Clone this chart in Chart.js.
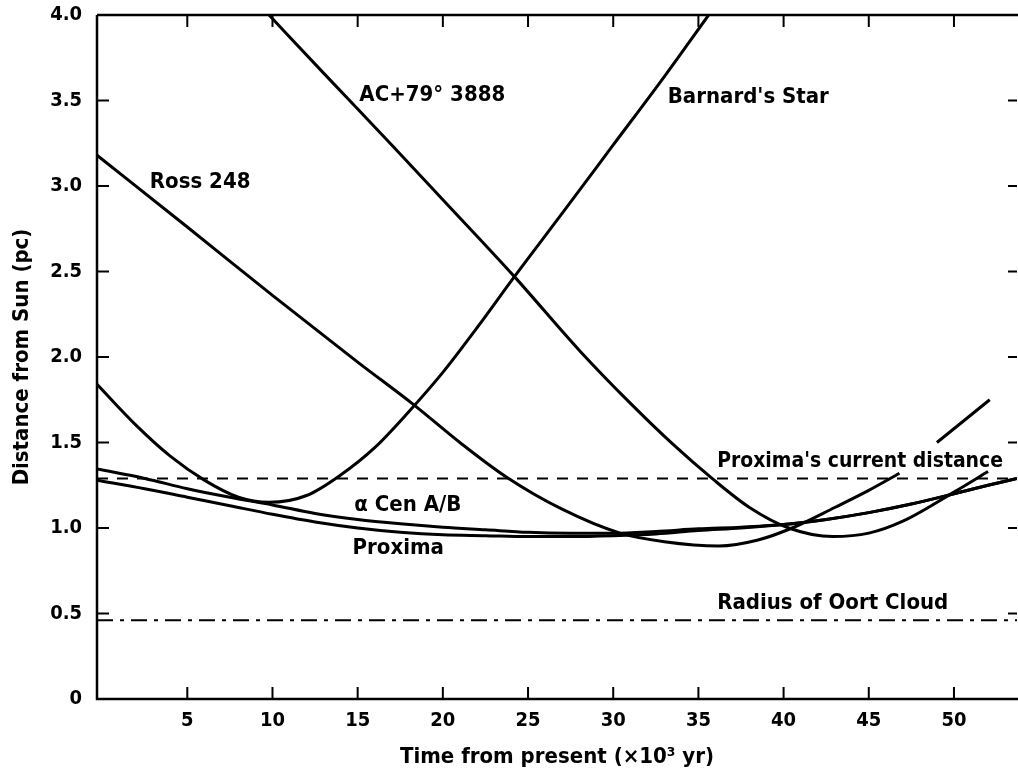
<!DOCTYPE html>
<html lang="en">
  <head>
    <meta charset="utf-8">
    <title>Stars passing the Sun</title>
    <script src="https://cdn.jsdelivr.net/npm/chart.js@4.4.1/dist/chart.umd.min.js"></script>
    <style>
      body { margin: 0; background: #fff; }
      canvas { display: block; }
    </style>
  </head>
  <body>
    <canvas id="chart_dist" width="1018" height="774"></canvas>

    <script>
      // values: time in 10^3 yr, distance in pc
      const xTicks = [5, 10, 15, 20, 25, 30, 35, 40, 45, 50];
      const yTicks = [0, 0.5, 1.0, 1.5, 2.0, 2.5, 3.0, 3.5, 4.0];

      const alphaCenT = [-0.3, 2.5, 5, 7.5, 10, 12.5, 15, 17.5, 20, 22.5, 25, 27.5, 30, 32.5, 35, 37.5, 40, 42.5, 45, 47.5, 50, 52, 53.7];
      const alphaCenD = [1.345, 1.29, 1.23, 1.18, 1.135, 1.085, 1.05, 1.025, 1.005, 0.99, 0.975, 0.97, 0.97, 0.98, 0.995, 1.005, 1.02, 1.05, 1.09, 1.14, 1.20, 1.25, 1.29];

      const proximaT = [-0.3, 2.5, 5, 7.5, 10, 12.5, 15, 17.5, 20, 22.5, 25, 27.5, 30, 32.5, 35, 37.5, 40, 42.5, 45, 47.5, 50, 52, 53.7];
      const proximaD = [1.28, 1.23, 1.18, 1.13, 1.08, 1.035, 1.0, 0.975, 0.96, 0.955, 0.95, 0.95, 0.955, 0.965, 0.985, 1.0, 1.02, 1.05, 1.09, 1.14, 1.20, 1.25, 1.29];

      const barnardT = [-0.3, 2, 4, 6, 8, 9.8, 12, 14, 16, 18, 20, 22, 24.2, 27, 30, 33, 35.6];
      const barnardD = [1.84, 1.60, 1.42, 1.28, 1.18, 1.15, 1.19, 1.31, 1.47, 1.68, 1.91, 2.17, 2.47, 2.84, 3.24, 3.64, 4.0];

      // the break near 48 is where the label sits
      const rossT = [-0.3, 5, 10, 15, 18.3, 21, 23.7, 27, 30.4, 33, 36.2, 38.5, 40.5, 43, 45, 46.8, 47.9, 49, 52.1];
      const rossD = [3.18, 2.76, 2.36, 1.97, 1.72, 1.50, 1.30, 1.11, 0.97, 0.92, 0.895, 0.93, 1.0, 1.12, 1.22, 1.32, null, 1.50, 1.75];

      const acT = [9.8, 13, 17, 20, 24.2, 28, 31, 33.5, 35.8, 38, 40.3, 42.9, 45, 47, 50, 52];
      const acD = [4.0, 3.66, 3.24, 2.92, 2.47, 2.04, 1.73, 1.49, 1.29, 1.12, 1.0, 0.95, 0.97, 1.04, 1.21, 1.33];

      const proximaNow = 1.29;
      const oortRadius = 0.46;

      const labelText = ["Ross 248", "AC+79\u00b0 3888", "Barnard's Star", "Proxima's current distance", "\u03b1 Cen A/B", "Proxima", "Radius of Oort Cloud"];
      const labelT = [2.8, 15.1, 33.2, 36.1, 14.8, 14.7, 36.1];
      const labelD = [3.02, 3.53, 3.52, 1.39, 1.13, 0.88, 0.56];

      const X_MIN = -0.3, X_MAX = 53.7;
      const FONT = '"DejaVu Sans Condensed", "DejaVu Sans", sans-serif';

      function pts(t, d) {
        return t.map((v, i) => ({ x: v, y: d[i] }));
      }

      function curve(t, d) {
        return {
          data: pts(t, d),
          borderColor: "#000",
          borderWidth: 3,
          pointRadius: 0,
          showLine: true,
          tension: 0.4,
          cubicInterpolationMode: 'monotone',
          spanGaps: false
        };
      }

      function refLine(y, dash) {
        return {
          data: [{ x: X_MIN, y: y }, { x: X_MAX, y: y }],
          borderColor: "#000",
          borderWidth: 2,
          borderDash: dash,
          pointRadius: 0,
          showLine: true
        };
      }

      // box on three sides, with ticks pointing inward
      const frame = {
        id: 'frame',
        afterDatasetsDraw(chart) {
          const { ctx, chartArea: a, scales } = chart;
          ctx.save();
          ctx.strokeStyle = "#000";
          ctx.lineWidth = 2.5;
          ctx.beginPath();
          ctx.moveTo(a.left, a.top);
          ctx.lineTo(a.left, a.bottom);
          ctx.lineTo(a.right + 2, a.bottom);
          ctx.moveTo(a.left, a.top);
          ctx.lineTo(a.right + 2, a.top);
          ctx.stroke();
          ctx.lineWidth = 2;
          ctx.beginPath();
          xTicks.forEach(v => {
            const px = scales.x.getPixelForValue(v);
            ctx.moveTo(px, a.bottom);
            ctx.lineTo(px, a.bottom - 12);
            ctx.moveTo(px, a.top);
            ctx.lineTo(px, a.top + 12);
          });
          yTicks.slice(1, -1).forEach(v => {
            const py = scales.y.getPixelForValue(v);
            ctx.moveTo(a.left, py);
            ctx.lineTo(a.left + 12, py);
            ctx.moveTo(a.right, py);
            ctx.lineTo(a.right - 9, py);
          });
          ctx.stroke();
          ctx.restore();
        }
      };

      const notes = {
        id: 'notes',
        afterDatasetsDraw(chart) {
          const { ctx, scales, chartArea } = chart;
          ctx.save();
          ctx.fillStyle = "#000";
          ctx.font = 'bold 22px ' + FONT;
          ctx.textAlign = 'left';
          ctx.textBaseline = 'middle';
          labelText.forEach((s, i) => {
            const px = scales.x.getPixelForValue(labelT[i]);
            ctx.fillText(s, px, scales.y.getPixelForValue(labelD[i]), chartArea.right - px - 14);
          });
          ctx.restore();
        }
      };

      const chart = new Chart("chart_dist", {
        type: "scatter",
        data: {
          datasets: [
            curve(alphaCenT, alphaCenD),
            curve(proximaT, proximaD),
            curve(barnardT, barnardD),
            curve(rossT, rossD),
            curve(acT, acD),
            refLine(proximaNow, [11, 9]),
            refLine(oortRadius, [16, 7, 4, 7])
          ]
        },
        options: {
          responsive: false,
          animation: false,
          layout: { padding: { top: 15, right: 1, left: 0, bottom: 0 } },
          plugins: { legend: { display: false }, tooltip: { enabled: false } },
          scales: {
            x: {
              type: 'linear',
              min: X_MIN,
              max: X_MAX,
              grid: { display: false, drawTicks: false },
              border: { display: false },
              afterBuildTicks: s => { s.ticks = xTicks.map(v => ({ value: v })); },
              afterFit: s => { s.height = 75; s.paddingLeft = 0; s.paddingRight = 0; },
              ticks: {
                padding: 10,
                color: "#000",
                font: { family: FONT, size: 20, weight: 'bold' }
              },
              title: {
                display: true,
                text: "Time from present (\u00d710\u00b3 yr)",
                color: "#000",
                padding: { top: 0, bottom: 4 },
                font: { family: FONT, size: 22, weight: 'bold' }
              }
            },
            y: {
              min: 0,
              max: 4,
              grid: { display: false, drawTicks: false },
              border: { display: false },
              afterBuildTicks: s => { s.ticks = yTicks.map(v => ({ value: v })); },
              afterFit: s => { s.width = 97; s.paddingTop = 0; s.paddingBottom = 0; },
              ticks: {
                padding: 15,
                color: "#000",
                font: { family: FONT, size: 20, weight: 'bold' },
                callback: v => v === 0 ? "0" : v.toFixed(1)
              },
              title: {
                display: true,
                text: "Distance from Sun (pc)",
                color: "#000",
                padding: { top: 9, bottom: 0 },
                font: { family: FONT, size: 22, weight: 'bold' }
              }
            }
          }
        },
        plugins: [frame, notes]
      });
    </script>
  </body>
</html>
